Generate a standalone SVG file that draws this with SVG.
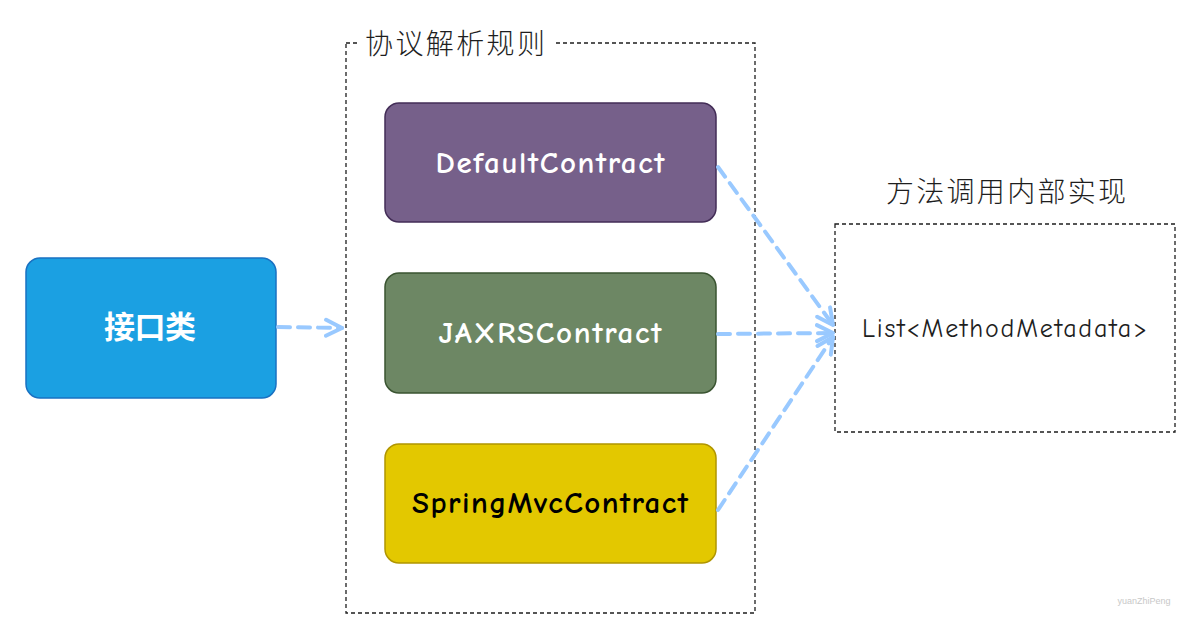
<svg xmlns="http://www.w3.org/2000/svg" width="1201" height="639" viewBox="0 0 1201 639">
<style>
.frame{fill:none;stroke:#1e1e1e;stroke-width:1.3;stroke-dasharray:4 3}
.node{stroke-width:1.5}
.lbl{font-family:"Comic Neue","Liberation Sans","Noto Sans CJK SC",sans-serif;font-size:31px;font-weight:bold;text-anchor:middle;dominant-baseline:central}
.cjk{font-family:"Noto Sans CJK SC",sans-serif;font-weight:300;font-size:28px;fill:#1e1e1e}
.conn{fill:none;stroke:#99c9ff;stroke-width:4;stroke-dasharray:12 8;stroke-linecap:round}
</style>
<defs>
<marker id="ah" markerWidth="22" markerHeight="22" refX="18" refY="11" orient="auto" markerUnits="userSpaceOnUse">
<path d="M2,3 L18,11 L2,19" fill="none" stroke="#99c9ff" stroke-width="4" stroke-linecap="round" stroke-linejoin="round"/>
</marker>
</defs>
<rect width="1201" height="639" fill="#ffffff"/>
<g id="frame-rules">
<rect class="frame" x="346" y="43" width="409" height="570"/>
<rect x="358" y="28" width="196" height="30" fill="#ffffff"/>
<text class="cjk" x="365" y="54" textLength="180" lengthAdjust="spacing">协议解析规则</text>
</g>
<g id="frame-impl">
<rect class="frame" x="835" y="224" width="340" height="208"/>
<text class="cjk" x="886" y="202" textLength="240" lengthAdjust="spacing">方法调用内部实现</text>
<text x="862" y="329" font-family="Comic Neue,Liberation Sans,sans-serif" font-size="26" fill="#1e1e1e" dominant-baseline="central" textLength="285" lengthAdjust="spacing">List&lt;MethodMetadata&gt;</text>
</g>
<g id="node-interface">
<rect class="node" x="26" y="258" width="250" height="140" rx="14" fill="#1ba0e2" stroke="#1971c2"/>
<text class="lbl" x="150" y="328" fill="#ffffff" font-family="Noto Sans CJK SC,sans-serif" font-size="28" textLength="92" lengthAdjust="spacing">接口类</text>
</g>
<g id="node-default">
<rect class="node" x="385" y="103" width="331" height="119" rx="14" fill="#76608a" stroke="#432d57"/>
<text class="lbl" x="550" y="163" fill="#ffffff" textLength="229" lengthAdjust="spacing">DefaultContract</text>
</g>
<g id="node-jaxrs">
<rect class="node" x="385" y="273" width="331" height="120" rx="14" fill="#6d8764" stroke="#3a5431"/>
<text class="lbl" x="550" y="333" fill="#ffffff" textLength="223" lengthAdjust="spacing">JAXRSContract</text>
</g>
<g id="node-spring">
<rect class="node" x="385" y="444" width="331" height="119" rx="14" fill="#e3c800" stroke="#b09500"/>
<text class="lbl" x="550" y="503" fill="#000000" textLength="276" lengthAdjust="spacing">SpringMvcContract</text>
</g>
<g id="connectors">
<path class="conn" d="M278,327 L342,328" marker-end="url(#ah)"/>
<path class="conn" d="M718,167 L833,325" marker-end="url(#ah)"/>
<path class="conn" d="M718,334 L833,333" marker-end="url(#ah)"/>
<path class="conn" d="M718,510 L833,337" marker-end="url(#ah)"/>
</g>
<text x="1144" y="604" font-family="Liberation Sans,sans-serif" font-size="9" fill="#c8c8c8" text-anchor="middle">yuanZhiPeng</text>
</svg>
